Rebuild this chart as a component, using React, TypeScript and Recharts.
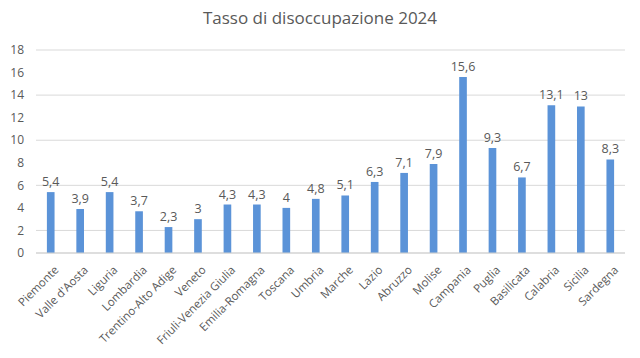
import { BarChart, Bar, XAxis, YAxis, CartesianGrid, LabelList } from "recharts";

const regions = [
  "Piemonte",
  "Valle d'Aosta",
  "Liguria",
  "Lombardia",
  "Trentino-Alto Adige",
  "Veneto",
  "Friuli-Venezia Giulia",
  "Emilia-Romagna",
  "Toscana",
  "Umbria",
  "Marche",
  "Lazio",
  "Abruzzo",
  "Molise",
  "Campania",
  "Puglia",
  "Basilicata",
  "Calabria",
  "Sicilia",
  "Sardegna",
];

const rates = [5.4, 3.9, 5.4, 3.7, 2.3, 3, 4.3, 4.3, 4, 4.8, 5.1, 6.3, 7.1, 7.9, 15.6, 9.3, 6.7, 13.1, 13, 8.3];

const yTicks = [0, 2, 4, 6, 8, 10, 12, 14, 16, 18];

const data = regions.map((region, i) => ({ region, value: rates[i] }));

const font = "'Open Sans', sans-serif";
const textGray = "#595959";

function RotatedTick(props: any) {
  const { x, y, payload } = props;
  return (
    <g transform={`translate(${x + 3},${y + 4})`}>
      <text
        transform="rotate(-45)"
        textAnchor="end"
        dy={8}
        fontSize={11.5}
        fontFamily={font}
        fill={textGray}
      >
        {payload.value}
      </text>
    </g>
  );
}

export default function App() {
  return (
    <div style={{ position: "absolute", left: 0, top: 0, width: 640, height: 358, background: "#fff" }}>
      <div
        style={{
          position: "absolute",
          top: 6,
          left: 0,
          width: 640,
          textAlign: "center",
          fontFamily: font,
          fontSize: 17,
          color: textGray,
        }}
      >
        Tasso di disoccupazione 2024
      </div>
      <BarChart
        width={640}
        height={358}
        data={data}
        margin={{ top: 50, right: 15, left: 0, bottom: 0 }}
        barCategoryGap="63%"
      >
        <CartesianGrid vertical={false} stroke="#d9d9d9" />
        <YAxis
          width={36}
          domain={[0, 18]}
          ticks={yTicks}
          axisLine={false}
          tickLine={false}
          tickMargin={6}
          tick={{ fontSize: 12, fill: textGray, fontFamily: font }}
        />
        <XAxis
          dataKey="region"
          height={105}
          interval={0}
          axisLine={{ stroke: "#d0d0d0" }}
          tickLine={false}
          tick={<RotatedTick />}
        />
        <Bar dataKey="value" fill="#5B93D8" isAnimationActive={false}>
          <LabelList
            dataKey="value"
            position="top"
            offset={6}
            formatter={(v: any) => String(v).replace(".", ",")}
            style={{ fontSize: 12.5, fill: textGray, fontFamily: font }}
          />
        </Bar>
      </BarChart>
    </div>
  );
}
